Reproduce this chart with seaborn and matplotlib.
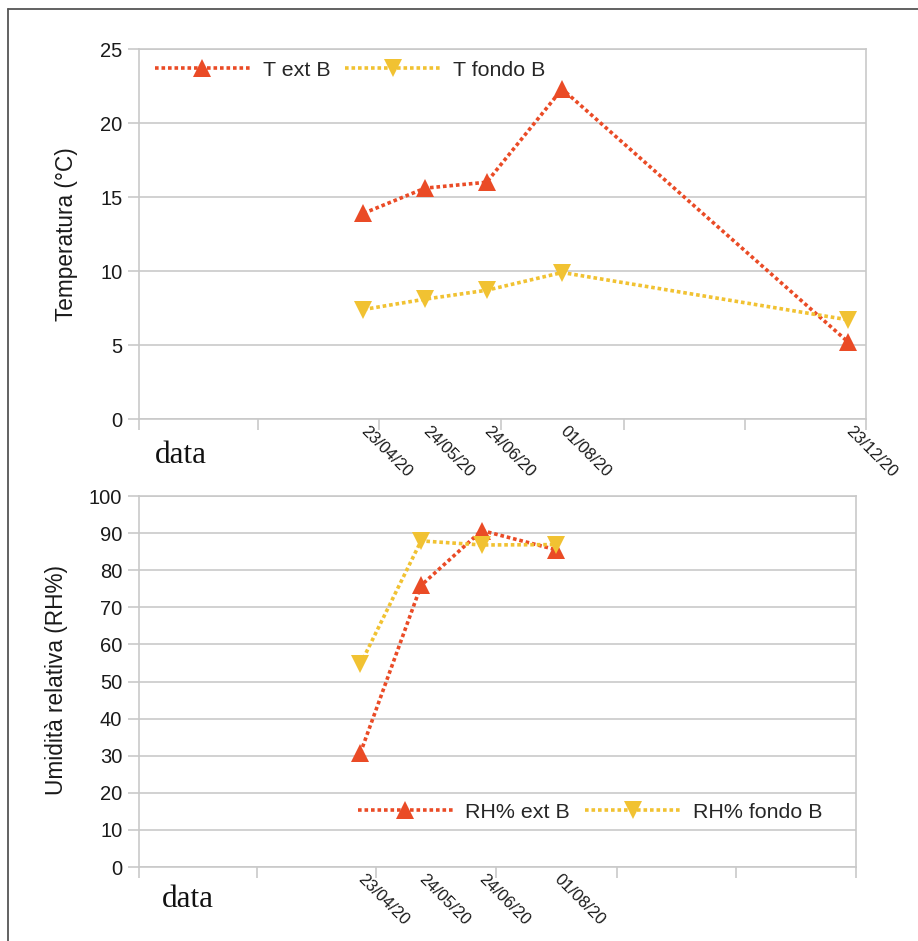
import pandas as pd
import seaborn as sns
import matplotlib.pyplot as plt
import matplotlib.dates as mdates
from matplotlib.ticker import FixedLocator
from matplotlib.lines import Line2D

# dati
date_temp = ['23/04/20', '24/05/20', '24/06/20', '01/08/20', '23/12/20']
t_ext = [13.9, 15.6, 16.0, 22.3, 5.2]
t_fondo = [7.4, 8.1, 8.7, 9.9, 6.7]

date_rh = ['23/04/20', '24/05/20', '24/06/20', '01/08/20']
rh_ext = [30.7, 75.9, 90.7, 85.5]
rh_fondo = [54.6, 87.9, 86.8, 86.9]

rosso = '#ea4b26'
giallo = '#f1c232'
grigio = '#c9c9c9'
stile = (0, (1.0, 0.8))

sns.set_theme(style='white')
plt.rcParams['font.family'] = ['Liberation Sans', 'DejaVu Sans']

fig = plt.figure(figsize=(9.18, 9.41), dpi=100)
ax1 = fig.add_axes([0.1514, 0.5547, 0.792, 0.3932])
ax2 = fig.add_axes([0.1514, 0.0786, 0.781, 0.3943])

def disegna(ax, date, ext, fondo, lab_ext, lab_fondo, ymax, ystep, ylabel):
    x = pd.to_datetime(date, format='%d/%m/%y')
    sns.lineplot(x=x, y=ext, ax=ax, color=rosso, marker='^', ms=12.5, mec=rosso, mew=0,
                 lw=2.6, ls=stile, label=lab_ext)
    sns.lineplot(x=x, y=fondo, ax=ax, color=giallo, marker='v', ms=12.5, mec=giallo, mew=0,
                 lw=2.6, ls=stile, label=lab_fondo)
    ax.set_xlim(pd.Timestamp('2020-01-01'), pd.Timestamp('2021-01-01'))
    ax.set_ylim(0, ymax)
    ax.set_yticks(range(0, ymax + 1, ystep))
    ax.xaxis.set_major_locator(FixedLocator(mdates.date2num(x)))
    ax.xaxis.set_major_formatter(mdates.DateFormatter('%d/%m/%y'))
    ax.xaxis.set_minor_locator(mdates.MonthLocator(bymonth=[1, 3, 5, 7, 9, 11]))
    ax.tick_params(axis='x', which='major', length=0, pad=7, labelsize=12, labelcolor='#1a1a1a')
    ax.tick_params(axis='x', which='minor', length=8, width=1.2, color=grigio, bottom=True)
    ax.tick_params(axis='y', length=8, width=1.2, color=grigio, left=True, pad=4,
                   labelsize=14.5, labelcolor='#1a1a1a')
    for lab in ax.get_xticklabels():
        lab.set_rotation(-45)
        lab.set_ha('left')
        lab.set_va('center')
        lab.set_rotation_mode('anchor')
    ax.grid(axis='y', color=grigio, lw=1.2)
    ax.set_axisbelow(True)
    for s in ax.spines.values():
        s.set_color(grigio)
        s.set_linewidth(1.2)
    ax.set_xlabel('')
    ax.set_ylabel(ylabel, fontsize=16.3, color='#1a1a1a')

disegna(ax1, date_temp, t_ext, t_fondo, 'T ext B', 'T fondo B', 25, 5, 'Temperatura (°C)')
disegna(ax2, date_rh, rh_ext, rh_fondo, 'RH% ext B', 'RH% fondo B', 100, 10, 'Umidità relativa (RH%)')

ax1.yaxis.set_label_coords(-0.0838, 0.5)
ax2.yaxis.set_label_coords(-0.099, 0.504)

legenda = dict(frameon=False, ncol=2, fontsize=15.4, handlelength=4.44, handletextpad=0.6,
               columnspacing=0.7, borderpad=0, borderaxespad=0, loc='center left')
ax1.legend(bbox_to_anchor=(0.022, 0.943), **legenda)
ax2.legend(bbox_to_anchor=(0.305, 0.148), **legenda)

# etichetta "data" in serif
fig.text(155 / 918, 1 - 463 / 941, 'data', family='Liberation Serif', fontsize=22.5, color='#111111')
fig.text(162 / 918, 1 - 907 / 941, 'data', family='Liberation Serif', fontsize=22.5, color='#111111')

# cornice della figura
fig.add_artist(Line2D([8 / 918, 8 / 918], [0, 1 - 9 / 941], color='#555555', lw=1.3))
fig.add_artist(Line2D([8 / 918, 1], [1 - 9 / 941, 1 - 9 / 941], color='#555555', lw=1.3))

fig.savefig('out.png', dpi=100)
